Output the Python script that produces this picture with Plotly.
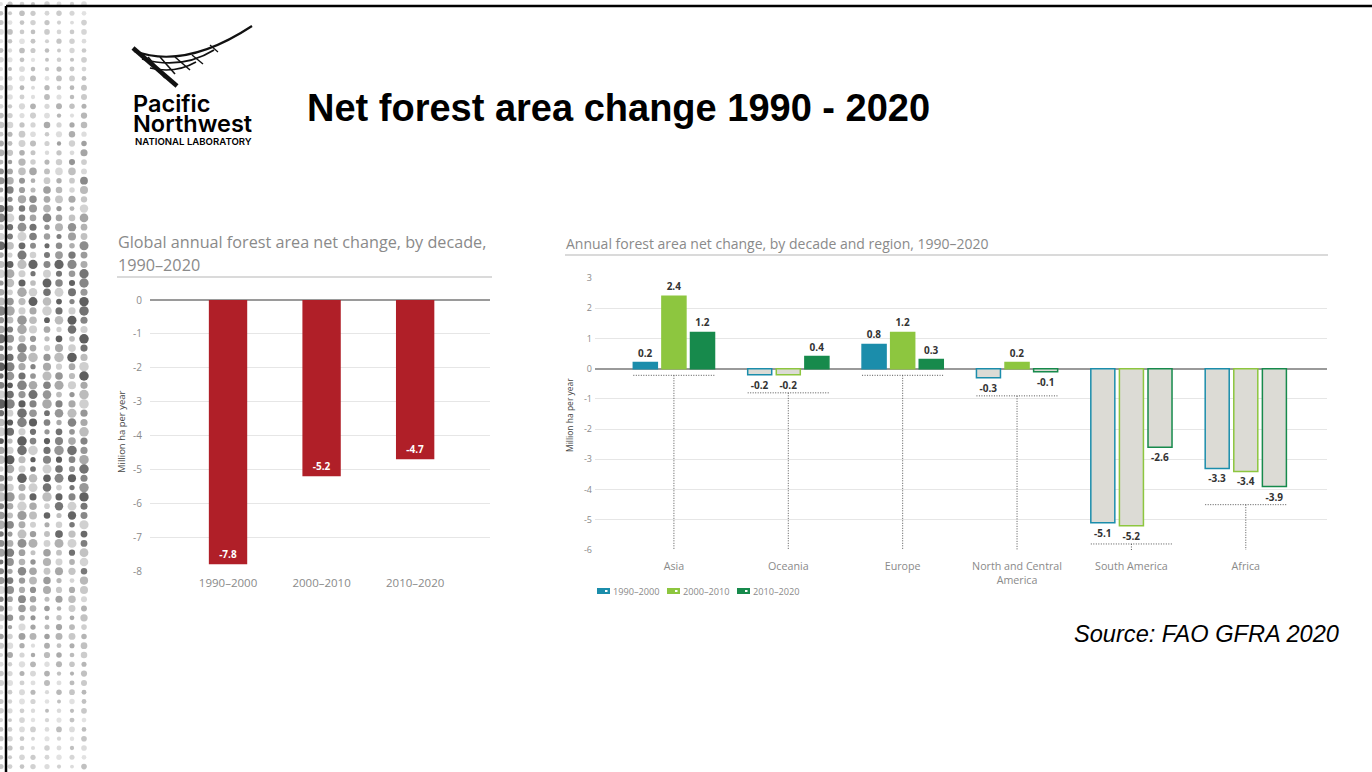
import math
import plotly.graph_objects as go

W, H = 1372, 772


def px(x):
    return x / W


def py(y):
    return 1 - y / H


# ---------------- data ----------------
decades = ["1990–2000", "2000–2010", "2010–2020"]
global_change = [-7.8, -5.2, -4.7]

regions = ["Asia", "Oceania", "Europe", "North and Central<br>America", "South America", "Africa"]
d1990_2000 = [0.2, -0.2, 0.8, -0.3, -5.1, -3.3]
d2000_2010 = [2.4, -0.2, 1.2, 0.2, -5.2, -3.4]
d2010_2020 = [1.2, 0.4, 0.3, -0.1, -2.6, -3.9]

left_ticks = [0, -1, -2, -3, -4, -5, -6, -7, -8]
right_ticks = [3, 2, 1, 0, -1, -2, -3, -4, -5, -6]

# ---------------- styles ----------------
FONT = "Open Sans"
RED = "#b01f28"
SERIES_COLORS = ["#1b8dab", "#8dc63f", "#178a4c"]
NEG_FILL = "#dcdbd5"
GRID = "#e6e6e6"
TICK_GREY = "#8a8a8a"

fig = go.Figure()

# ---------- decorative dot strip (page ornament) ----------
dot_x, dot_y, dot_s, dot_c = [], [], [], []
cols = [1, 10, 22, 33, 47, 59, 72, 84]
row = 0
yy = 4.0
while yy < 772:
    # flat-topped intensity profile: dense band in the middle of the page
    t = math.exp(-((yy - 390) / 240.0) ** 4)
    for ci, cx in enumerate(cols):
        v = ((ci * 7 + row * 13 + (ci * row) % 5) % 10) / 9.0
        w = ((ci * 11 + row * 5 + (ci + row) % 3) % 7) / 6.0
        s = 3 + 6.5 * (0.4 + 0.6 * t) * (0.35 + 0.65 * v)
        g = int(226 - 200 * (0.3 + 0.7 * t) * (0.2 + 0.8 * w))
        dot_x.append(cx)
        dot_y.append(yy)
        dot_s.append(s)
        dot_c.append(f"rgb({g},{g},{g})")
    row += 1
    yy += 9.3

fig.add_trace(go.Scatter(
    x=dot_x, y=dot_y, mode="markers", xaxis="x3", yaxis="y3",
    marker=dict(size=dot_s, color=dot_c, line=dict(width=0)),
    showlegend=False, hoverinfo="skip"))

# ---------- left chart ----------
fig.add_trace(go.Bar(
    x=decades, y=global_change, xaxis="x", yaxis="y",
    width=0.41, marker=dict(color=RED, line=dict(width=0)),
    text=[f"{v:.1f}" for v in global_change],
    textposition="inside", insidetextanchor="end", textangle=0,
    textfont=dict(family=FONT, size=10, color="white", weight="bold"),
    constraintext="none", showlegend=False, cliponaxis=False, hoverinfo="skip"))

# ---------- right chart ----------
for name, vals, col in zip(decades, [d1990_2000, d2000_2010, d2010_2020], SERIES_COLORS):
    fig.add_trace(go.Bar(
        name=name, x=regions, y=vals, xaxis="x2", yaxis="y2",
        marker=dict(color=[col if v >= 0 else NEG_FILL for v in vals],
                    line=dict(color=col, width=1.5)),
        text=[f"{v:.1f}" for v in vals], textposition="outside",
        textfont=dict(family=FONT, size=10, color="#333333", weight="bold"),
        constraintext="none", cliponaxis=False, showlegend=False, hoverinfo="skip"))

shapes = []
# dotted brackets under each region group
for i in range(len(regions)):
    lo = min(d1990_2000[i], d2000_2010[i], d2010_2020[i])
    yb = lo - 0.6 if lo < 0 else -0.22
    shapes.append(dict(type="line", xref="x2", yref="y2", x0=i - 0.355, x1=i + 0.355, y0=yb, y1=yb,
                       line=dict(color="#555555", width=1, dash="1px,1.5px")))
    shapes.append(dict(type="line", xref="x2", yref="y2", x0=i, x1=i, y0=yb, y1=right_ticks[-1],
                       line=dict(color="#555555", width=1, dash="1px,1.5px")))

# title underlines
shapes.append(dict(type="line", xref="x3", yref="y3", x0=117, x1=492, y0=277, y1=277,
                   line=dict(color="#b5b5b5", width=1)))
shapes.append(dict(type="line", xref="x3", yref="y3", x0=565, x1=1328, y0=255, y1=255,
                   line=dict(color="#b5b5b5", width=1)))

# custom legend for the regional chart
annotations = []
for i, (name, col) in enumerate(zip(decades, SERIES_COLORS)):
    x0 = 597 + i * 70
    shapes.append(dict(type="rect", xref="x3", yref="y3", x0=x0, x1=x0 + 13, y0=588, y1=594,
                       fillcolor=col, line=dict(width=0)))
    shapes.append(dict(type="rect", xref="x3", yref="y3", x0=x0 + 8, x1=x0 + 10.5, y0=590, y1=592,
                       fillcolor="white", line=dict(width=0)))
    annotations.append(dict(text=name, x=px(x0 + 14), y=py(591), xanchor="left", yanchor="middle",
                            font=dict(family=FONT, size=9.2, color="#8a8a8a")))

# logo mark
logo_paths = [
    ("M 133 48 L 177 86", 4.5),
    ("M 134 51 Q 185 70 252 26", 2.2),
    ("M 142 59 Q 182 70 214 50", 1.8),
    ("M 150 68 Q 175 74 196 62", 1.6),
    ("M 148 57 L 165 78", 1.8),
    ("M 160 57 L 175 74", 1.6),
    ("M 175 57 L 190 70", 1.5),
    ("M 192 55 L 203 64", 1.4),
    ("M 210 45 L 218 52", 1.2),
]
for (p, w) in logo_paths:
    shapes.append(dict(type="path", xref="x3", yref="y3", path=p,
                       line=dict(color="#111111", width=w)))

# page frame (top and left edges)
shapes.append(dict(type="line", xref="x3", yref="y3", x0=6, x1=W, y0=6, y1=6,
                   line=dict(color="#000000", width=2.5)))
shapes.append(dict(type="line", xref="x3", yref="y3", x0=6, x1=6, y0=6, y1=H,
                   line=dict(color="#000000", width=2.5)))

annotations += [
    dict(text="<b>Net forest area change 1990 - 2020</b>", x=px(305), y=py(108), xanchor="left",
         yanchor="middle", font=dict(family="Liberation Sans", size=38, color="#000000")),
    dict(text="Pacific", x=px(131), y=py(103), xanchor="left", yanchor="middle",
         font=dict(family="Inter", size=23.5, color="#000000", weight=600)),
    dict(text="Northwest", x=px(131), y=py(123), xanchor="left", yanchor="middle",
         font=dict(family="Inter", size=23.5, color="#000000", weight=600)),
    dict(text="NATIONAL LABORATORY", x=px(133), y=py(141), xanchor="left", yanchor="middle",
         font=dict(family="Inter", size=9.6, color="#000000", weight=600)),
    dict(text="<i>Source: FAO GFRA 2020</i>", x=px(1341), y=py(634), xanchor="right", yanchor="middle",
         font=dict(family="Liberation Sans", size=23.6, color="#000000")),
    dict(text="Global annual forest area net change, by decade,", x=px(116), y=py(242),
         xanchor="left", yanchor="middle", font=dict(family=FONT, size=16.2, color="#8a8a8a")),
    dict(text="1990–2020", x=px(116), y=py(265),
         xanchor="left", yanchor="middle", font=dict(family=FONT, size=16.2, color="#8a8a8a")),
    dict(text="Annual forest area net change, by decade and region, 1990–2020", x=px(564), y=py(243),
         xanchor="left", yanchor="middle", font=dict(family=FONT, size=14, color="#8a8a8a")),
    dict(text="Million ha per year", x=px(121), y=py(432), textangle=-90, xanchor="center",
         yanchor="middle", font=dict(family=FONT, size=9.5, color="#444444")),
    dict(text="Million ha per year", x=px(569), y=py(415), textangle=-90, xanchor="center",
         yanchor="middle", font=dict(family=FONT, size=8.5, color="#444444")),
]
for a in annotations:
    a.update(xref="paper", yref="paper", showarrow=False)

fig.update_layout(
    width=W, height=H,
    margin=dict(l=0, r=0, t=0, b=0, autoexpand=False),
    paper_bgcolor="white", plot_bgcolor="rgba(0,0,0,0)",
    font=dict(family=FONT, color=TICK_GREY),
    barmode="group", bargap=0.25, bargroupgap=0.16,
    showlegend=False, hovermode=False,
    shapes=shapes, annotations=annotations,
    xaxis=dict(domain=[px(150), px(490)], range=[-0.834, 2.80], type="category", anchor="y",
               showgrid=False, zeroline=False, showline=False, ticks="", automargin=False,
               ticklabelstandoff=3,
               tickfont=dict(family=FONT, size=11.5, color=TICK_GREY)),
    yaxis=dict(domain=[py(571), py(300)], range=[-8, 0], tickvals=left_ticks, anchor="x",
               ticktext=[str(v) for v in left_ticks], showgrid=True, gridcolor=GRID, gridwidth=1,
               zeroline=True, zerolinecolor="#9a9a9a", zerolinewidth=1.5, showline=False, ticks="",
               automargin=False, ticklabelstandoff=7,
               tickfont=dict(family=FONT, size=10, color=TICK_GREY)),
    xaxis2=dict(domain=[px(595), px(1327)], range=[-0.69, 5.71], type="category", anchor="y2",
                showgrid=False, zeroline=False, showline=False, ticks="", automargin=False,
                ticklabelstandoff=8,
                tickfont=dict(family=FONT, size=10.7, color=TICK_GREY)),
    yaxis2=dict(domain=[py(550), py(278)], range=[-6, 3], tickvals=right_ticks, anchor="x2",
                ticktext=[str(v) for v in right_ticks], showgrid=True, gridcolor=GRID, gridwidth=1,
                zeroline=True, zerolinecolor="#9a9a9a", zerolinewidth=1.5, showline=False, ticks="",
                automargin=False, ticklabelstandoff=2,
                tickfont=dict(family=FONT, size=9, color=TICK_GREY)),
    xaxis3=dict(domain=[0, 1], range=[0, W], visible=False, fixedrange=True, anchor="y3",
                automargin=False),
    yaxis3=dict(domain=[0, 1], range=[H, 0], visible=False, fixedrange=True, anchor="x3",
                automargin=False),
)

fig.write_html("out.html", config={"displayModeBar": False},
               post_script="document.body.style.margin='0';")
